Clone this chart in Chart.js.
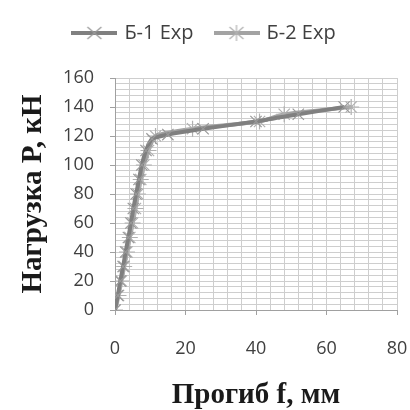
<!DOCTYPE html>
<html>
<head>
<meta charset="utf-8">
<script src="https://cdn.jsdelivr.net/npm/chart.js@4"></script>
<style>
  html, body { margin: 0; padding: 0; background: #fff; }
  #wrap { width: 410px; height: 410px; }
</style>
</head>
<body>
<div id="wrap"><canvas id="line-chart" width="410" height="410"></canvas></div>
<script>
// data: deflection f (mm), load P (kN)
var seriesNames = ["Б-1 Exp", "Б-2 Exp"];
var b1Deflection = [0, 0.8, 1.5, 2.3, 3, 3.8, 4.5, 5.2, 6, 6.8, 7.6, 8.8, 10.5, 15, 25, 40, 52, 65];
var b1Load       = [0, 10, 20, 30, 40, 50, 60, 70, 80, 90, 100, 110, 118, 121, 125, 130, 135, 140];
var b2Deflection = [0, 1, 1.8, 2.6, 3.4, 4.2, 5, 5.8, 6.5, 7.3, 8.2, 9.5, 11.5, 22, 41, 48, 67];
var b2Load       = [0, 10, 20, 30, 40, 50, 60, 70, 80, 90, 100, 110, 120, 125, 130, 135, 140];
var xTicks = [0, 20, 40, 60, 80];
var yTicks = [0, 20, 40, 60, 80, 100, 120, 140, 160];

function toPoints(xs, ys) {
    var pts = [];
    for (let i = 0; i < xs.length; i++) {
        pts.push({x: xs[i], y: ys[i]});
    }
    return pts;
}

// small picture for the legend: line with the marker on it
function legendIcon(lineColor, markColor, star) {
    var c = document.createElement("canvas");
    c.width = 46; c.height = 18;
    var ctx = c.getContext("2d");
    ctx.strokeStyle = lineColor;
    ctx.lineWidth = 4;
    ctx.beginPath(); ctx.moveTo(0, 9); ctx.lineTo(46, 9); ctx.stroke();
    ctx.strokeStyle = markColor;
    ctx.lineWidth = 1.2;
    ctx.beginPath();
    ctx.moveTo(16, 3); ctx.lineTo(30, 15);
    ctx.moveTo(30, 3); ctx.lineTo(16, 15);
    if (star) { ctx.moveTo(23, 1); ctx.lineTo(23, 17); }
    ctx.stroke();
    return c;
}

var tickFont = {family: "'Open Sans', sans-serif", size: 18};
var titleFont = {family: "'Liberation Serif', 'DejaVu Serif', serif", size: 29, weight: "bold", lineHeight: 1};

var legendSize = {
    id: "legendSize",
    beforeInit: function(chart) {
        var fit = chart.legend.fit;
        chart.legend.fit = function() {
            fit.call(this);
            this.height = 78;
        };
    }
};

new Chart(document.getElementById("line-chart"), {
    type: "line",
    data: {
        datasets: [
            {
                label: seriesNames[0],
                data: toPoints(b1Deflection, b1Load),
                borderColor: "#808080",
                borderWidth: 4,
                pointStyle: "crossRot",
                pointRadius: 8,
                pointBorderWidth: 1.2,
                pointBorderColor: "#999999",
                tension: 0.2,
                fill: false
            },
            {
                label: seriesNames[1],
                data: toPoints(b2Deflection, b2Load),
                borderColor: "#a3a3a3",
                borderWidth: 4,
                pointStyle: "star",
                pointRadius: 8,
                pointBorderWidth: 1.2,
                pointBorderColor: "#b0b0b0",
                tension: 0.2,
                fill: false
            }
        ]
    },
    options: {
        responsive: false,
        animation: false,
        layout: { padding: {left: 13, right: 13, top: 0, bottom: 0} },
        plugins: {
            tooltip: { enabled: false },
            legend: {
                position: "top",
                labels: {
                    usePointStyle: true,
                    pointStyleWidth: 40,
                    boxHeight: 18,
                    padding: 23,
                    color: "#404040",
                    font: {family: "'Open Sans', sans-serif", size: 20},
                    generateLabels: function(chart) {
                        return [
                            {text: seriesNames[0], pointStyle: legendIcon("#808080", "#999999", false), datasetIndex: 0, lineWidth: 0, fillStyle: "#808080", strokeStyle: "#808080", fontColor: "#404040"},
                            {text: seriesNames[1], pointStyle: legendIcon("#a3a3a3", "#b0b0b0", true), datasetIndex: 1, lineWidth: 0, fillStyle: "#a3a3a3", strokeStyle: "#a3a3a3", fontColor: "#404040"}
                        ];
                    }
                }
            }
        },
        scales: {
            x: {
                type: "linear",
                min: 0,
                max: 80,
                afterFit: function(scale) {
                    scale.height = 100;
                    scale.paddingLeft = 0;
                    scale.paddingRight = 12;
                },
                ticks: {
                    stepSize: 4,
                    autoSkip: false,
                    maxRotation: 0,
                    padding: 23,
                    color: "#404040",
                    font: tickFont,
                    callback: function(v) { return xTicks.indexOf(v) >= 0 ? v : ""; }
                },
                grid: {
                    color: "#cecece",
                    tickLength: 5,
                    tickColor: function(c) { return xTicks.indexOf(c.tick.value) >= 0 ? "#a0a0a0" : "rgba(0,0,0,0)"; }
                },
                border: { color: "#a0a0a0" },
                title: { display: true, text: "Прогиб f, мм", color: "#1a1a1a", font: titleFont, padding: {top: 0, bottom: 0} }
            },
            y: {
                type: "linear",
                min: 0,
                max: 160,
                afterFit: function(scale) { scale.width = 102; },
                ticks: {
                    stepSize: 4,
                    autoSkip: false,
                    padding: 16,
                    color: "#404040",
                    font: tickFont,
                    callback: function(v) { return yTicks.indexOf(v) >= 0 ? v : ""; }
                },
                grid: {
                    color: "#cecece",
                    tickLength: 5,
                    tickColor: function(c) { return yTicks.indexOf(c.tick.value) >= 0 ? "#a0a0a0" : "rgba(0,0,0,0)"; }
                },
                border: { color: "#a0a0a0" },
                title: { display: true, text: "Нагрузка P, кН", color: "#1a1a1a", font: titleFont, padding: {top: 6, bottom: 0} }
            }
        }
    },
    plugins: [legendSize]
});
</script>
</body>
</html>
